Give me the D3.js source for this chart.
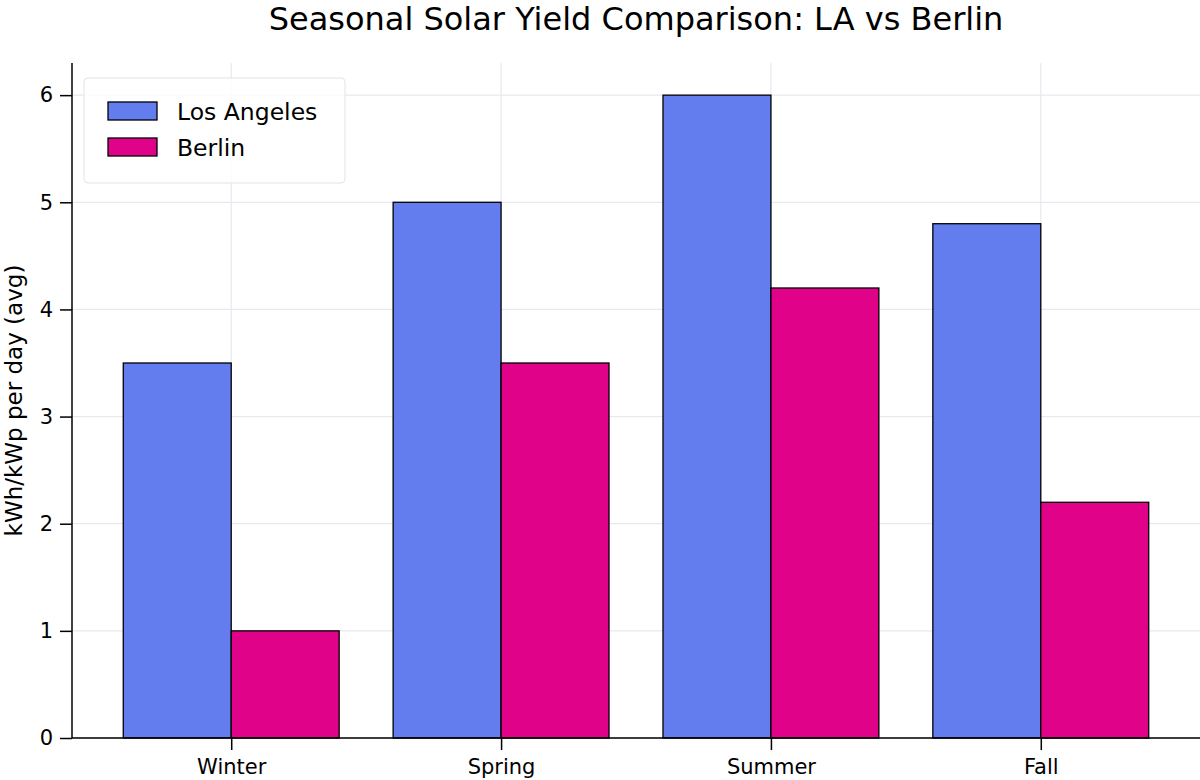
<!DOCTYPE html>
<html>
<head>
<meta charset="utf-8">
<script src="https://cdn.jsdelivr.net/npm/d3@7"></script>
<style>
  body { margin: 0; background: #fff; }
  text { font-family: "DejaVu Sans", sans-serif; fill: #000; }
</style>
</head>
<body>
<div id="chart"></div>
<script>
// data
const seasons = ["Winter", "Spring", "Summer", "Fall"];
const losAngeles = [3.5, 5.0, 6.0, 4.8];
const berlin = [1.0, 3.5, 4.2, 2.2];
const seriesNames = ["Los Angeles", "Berlin"];
const seriesColors = ["#637def", "#e0038a"];
const yTicks = [0, 1, 2, 3, 4, 5, 6];

var w = 1200;
var h = 780;
var margin = { top: 63, right: 0, bottom: 42, left: 72 };

var svg = d3
  .select("#chart")
  .append("svg")
  .attr("width", w)
  .attr("height", h);

// x as a linear scale over category index, like matplotlib's bar positions
var x = d3
  .scaleLinear()
  .domain([-0.59, seasons.length - 1 + 0.59])
  .range([margin.left, w - margin.right]);

var y = d3
  .scaleLinear()
  .domain([0, 6.3])
  .range([h - margin.bottom, margin.top]);

var barW = 0.4;
var series = [losAngeles, berlin];

// grid lines
var grid = svg.append("g").attr("stroke", "#e6e9ee").attr("stroke-width", 1.2);
grid
  .selectAll("line.h")
  .data(yTicks)
  .enter()
  .append("line")
  .attr("x1", x.range()[0])
  .attr("x2", x.range()[1])
  .attr("y1", (d) => y(d))
  .attr("y2", (d) => y(d));
grid
  .selectAll("line.v")
  .data(seasons)
  .enter()
  .append("line")
  .attr("x1", (d, i) => x(i))
  .attr("x2", (d, i) => x(i))
  .attr("y1", y.range()[0])
  .attr("y2", y.range()[1]);

// bars
series.forEach((vals, s) => {
  svg
    .append("g")
    .selectAll("rect")
    .data(vals)
    .enter()
    .append("rect")
    .attr("x", (d, i) => x(i - barW + s * barW))
    .attr("width", x(barW) - x(0))
    .attr("y", (d) => y(d))
    .attr("height", (d) => y(0) - y(d))
    .attr("fill", seriesColors[s])
    .attr("stroke", "#000")
    .attr("stroke-width", 1.3);
});

// axes
var yAxis = svg
  .append("g")
  .attr("transform", "translate(" + margin.left + ",0)")
  .call(d3.axisLeft(y).tickValues(yTicks).tickFormat(d3.format("d")).tickSize(12).tickPadding(7));

var xAxis = svg
  .append("g")
  .attr("transform", "translate(0," + (h - margin.bottom) + ")")
  .call(
    d3
      .axisBottom(x)
      .tickValues(d3.range(seasons.length))
      .tickFormat((i) => seasons[i])
      .tickSize(12)
      .tickPadding(9)
  );

[xAxis, yAxis].forEach((a) => {
  a.select(".domain").attr("stroke", "#000").attr("stroke-width", 1.5).attr("d", null);
  a.selectAll(".tick line").attr("stroke", "#000").attr("stroke-width", 1.5);
  a.selectAll(".tick text").style("font-size", "21px").attr("fill", "#000");
});
yAxis.select(".domain").attr("d", "M0," + y.range()[0] + "V" + y.range()[1]);
xAxis.select(".domain").attr("d", "M" + x.range()[0] + ",0H" + x.range()[1]);

// title
svg
  .append("text")
  .attr("x", (x.range()[0] + x.range()[1]) / 2)
  .attr("y", 30)
  .attr("text-anchor", "middle")
  .style("font-size", "32px")
  .text("Seasonal Solar Yield Comparison: LA vs Berlin");

// y label
svg
  .append("text")
  .attr("transform", "translate(22," + (y.range()[0] + y.range()[1]) / 2 + ") rotate(-90)")
  .attr("text-anchor", "middle")
  .style("font-size", "23px")
  .text("kWh/kWp per day (avg)");

// legend
var legend = svg.append("g").attr("transform", "translate(84,78)");
legend
  .append("rect")
  .attr("width", 261)
  .attr("height", 105)
  .attr("rx", 4)
  .attr("fill", "#fff")
  .attr("fill-opacity", 0.8)
  .attr("stroke", "#e3e3e3")
  .attr("stroke-width", 1);

seriesNames.forEach((name, i) => {
  var item = legend.append("g").attr("transform", "translate(24," + (24 + i * 36) + ")");
  item
    .append("rect")
    .attr("width", 49)
    .attr("height", 18)
    .attr("fill", seriesColors[i])
    .attr("stroke", "#000")
    .attr("stroke-width", 1.3);
  item
    .append("text")
    .attr("x", 69)
    .attr("y", 18)
    .style("font-size", "23.5px")
    .text(name);
});
</script>
</body>
</html>
